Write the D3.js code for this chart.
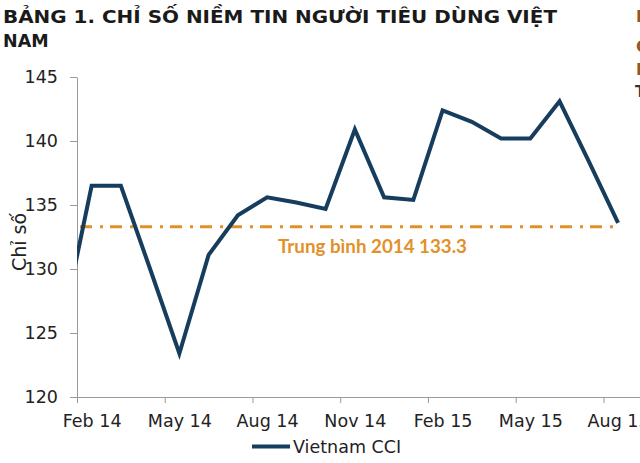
<!DOCTYPE html>
<html>
<head>
<meta charset="utf-8">
<script src="https://cdn.jsdelivr.net/npm/d3@7"></script>
<style>
  html, body { margin: 0; padding: 0; background: #fff; overflow: hidden; }
  svg { display: block; }
</style>
</head>
<body>
<svg id="chart" width="640" height="463"></svg>
<script>
// ---- Data ----
const months = ["Jan 14","Feb 14","Mar 14","Apr 14","May 14","Jun 14","Jul 14","Aug 14","Sep 14","Oct 14","Nov 14","Dec 14",
                "Jan 15","Feb 15","Mar 15","Apr 15","May 15","Jun 15","Jul 15","Aug 15"];
const cciValues = [125.5, 136.5, 136.5, 130.0, 123.4, 131.1, 134.2, 135.6, 135.2, 134.7, 140.9, 135.6,
                   135.4, 142.4, 141.5, 140.2, 140.2, 143.1, 138.4, 133.6];
const average2014 = 133.3;
const yTicks = [120, 125, 130, 135, 140, 145];
const xLabelMonths = ["Feb 14","May 14","Aug 14","Nov 14","Feb 15","May 15","Aug 15"];
const titleLines = ["BẢNG 1. CHỈ SỐ NIỀM TIN NGƯỜI TIÊU DÙNG VIỆT", "NAM"];
const yAxisTitle = "Chỉ số";
const avgLabel = "Trung bình 2014 133.3";
const legendLabel = "Vietnam CCI";

// ---- Layout ----
const svg = d3.select("#chart");
const plotLeft = 77, plotRight = 640, plotTop = 77, plotBottom = 397;
const navy = "#173d5e", orange = "#e2902a", axisGray = "#9a9a9a", textCol = "#222";
const font = "'DejaVu Sans', Verdana, sans-serif";

const x = d3.scaleLinear().domain([0.5, 19.75]).range([plotLeft, plotRight]);
const y = d3.scaleLinear().domain([120, 145]).range([plotBottom, plotTop]);

// Title
const title = svg.append("g").attr("font-family", font).attr("font-weight", "bold")
  .attr("font-size", 17.5).attr("fill", "#1a1a1a");
title.append("text").attr("x", 3).attr("y", 23).attr("textLength", 554)
  .attr("lengthAdjust", "spacingAndGlyphs").text(titleLines[0]);
title.append("text").attr("x", 3).attr("y", 47).text(titleLines[1]);

// Cut-off fragments of neighbouring text at the right edge
const frag = svg.append("g").attr("font-family", font).attr("font-weight", "bold").attr("font-size", 16);
frag.append("text").attr("x", 636).attr("y", 22).attr("fill", "#8a5a2a").text("N");
frag.append("text").attr("x", 636).attr("y", 52).attr("fill", "#8a5a2a").text("C");
frag.append("text").attr("x", 636).attr("y", 75).attr("fill", "#8a5a2a").text("N");
frag.append("text").attr("x", 635).attr("y", 97).attr("fill", "#333").text("T");

// Y axis
const yAxis = svg.append("g").attr("transform", `translate(${plotLeft},0)`)
  .call(d3.axisLeft(y).tickValues(yTicks).tickSize(7).tickSizeOuter(0).tickPadding(12));
yAxis.selectAll("path, line").attr("stroke", axisGray);
yAxis.selectAll("text").attr("font-family", font).attr("font-size", 17.5).attr("fill", textCol);

// X axis: ticks at category boundaries, labels at category centres
const tickIdx = xLabelMonths.map(m => months.indexOf(m) - 0.5);
const labelIdx = xLabelMonths.map(m => months.indexOf(m));
const xAxisTicks = svg.append("g").attr("transform", `translate(0,${plotBottom})`)
  .call(d3.axisBottom(x).tickValues(tickIdx).tickSize(6).tickSizeOuter(0).tickFormat(""));
xAxisTicks.selectAll("path, line").attr("stroke", axisGray);
const xAxisLabels = svg.append("g").attr("transform", `translate(0,${plotBottom})`)
  .call(d3.axisBottom(x).tickValues(labelIdx).tickSize(0).tickPadding(17.6)
        .tickFormat(i => months[i]));
xAxisLabels.select(".domain").remove();
xAxisLabels.selectAll("text").attr("font-family", font).attr("font-size", 17.5).attr("fill", textCol);

// Y axis title
svg.append("text").attr("transform", `translate(26,242) rotate(-90)`)
  .attr("text-anchor", "middle").attr("font-family", font).attr("font-size", 19)
  .attr("fill", textCol).text(yAxisTitle);

// Clip to plot area
svg.append("clipPath").attr("id", "plotClip").append("rect")
  .attr("x", plotLeft).attr("y", 0).attr("width", plotRight - plotLeft).attr("height", plotBottom);

// Average line
svg.append("line")
  .attr("x1", x(0.5)).attr("x2", x(months.length - 1))
  .attr("y1", y(average2014)).attr("y2", y(average2014))
  .attr("stroke", orange).attr("stroke-width", 3)
  .attr("stroke-dasharray", "12,8,3,7").attr("stroke-dashoffset", 27);
svg.append("text").attr("x", 278).attr("y", 253)
  .attr("font-family", "Lato, 'Open Sans', sans-serif").attr("font-weight", "bold")
  .attr("font-size", 19).attr("fill", orange)
  .attr("textLength", 189).attr("lengthAdjust", "spacingAndGlyphs").text(avgLabel);

// CCI line
const line = d3.line().x((d, i) => x(i)).y(d => y(d));
svg.append("path").datum(cciValues).attr("clip-path", "url(#plotClip)")
  .attr("d", line).attr("fill", "none").attr("stroke", navy)
  .attr("stroke-width", 4).attr("stroke-linejoin", "miter");

// Legend
svg.append("line").attr("x1", 252).attr("x2", 290).attr("y1", 446.5).attr("y2", 446.5)
  .attr("stroke", navy).attr("stroke-width", 4);
svg.append("text").attr("x", 293).attr("y", 452.5).attr("font-family", font)
  .attr("font-size", 17.5).attr("fill", textCol).text(legendLabel);
</script>
</body>
</html>
